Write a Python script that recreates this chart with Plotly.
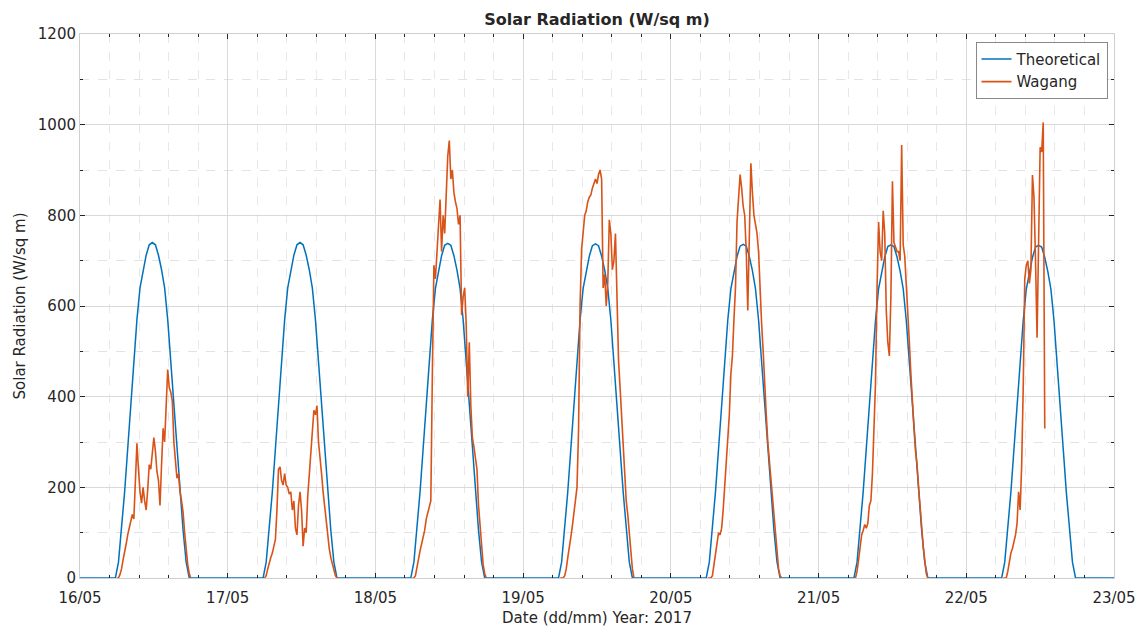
import pandas as pd
import plotly.graph_objects as go

# ---------------- data ----------------
DAYS = ["2017-05-16", "2017-05-17", "2017-05-18", "2017-05-19",
        "2017-05-20", "2017-05-21", "2017-05-22"]

# hours of day for the theoretical curve
THEO_HOURS = [0, 5.75, 6.25, 6.75, 7.25, 7.75, 8.25, 8.75, 9.25, 9.75, 10.25, 10.75, 11.25,
              11.75, 12.25, 12.75, 13.25, 13.75, 14.25, 14.75, 15.25, 15.75, 16.25, 16.75,
              17.25, 17.75, 24]

THEO_D1 = [0, 0, 35, 105, 190, 285, 385, 480, 570, 640, 680, 712, 735, 740, 735, 712, 680, 640, 570, 480, 385, 285, 190, 105, 35, 0, 0]
THEO_D2 = [0, 0, 35, 105, 190, 285, 385, 480, 570, 640, 680, 712, 735, 740, 735, 712, 680, 640, 570, 480, 385, 285, 190, 105, 35, 0, 0]
THEO_D3 = [0, 0, 35, 105, 190, 285, 385, 480, 570, 639, 679, 711, 734, 738, 734, 711, 679, 639, 570, 480, 385, 285, 190, 105, 35, 0, 0]
THEO_D4 = [0, 0, 35, 105, 190, 285, 385, 480, 569, 639, 679, 710, 733, 737, 733, 710, 679, 639, 569, 480, 385, 285, 190, 105, 35, 0, 0]
THEO_D5 = [0, 0, 35, 105, 190, 285, 384, 479, 569, 638, 678, 709, 732, 736, 732, 709, 678, 638, 569, 479, 384, 285, 190, 105, 35, 0, 0]
THEO_D6 = [0, 0, 35, 105, 190, 285, 384, 479, 568, 638, 677, 708, 731, 735, 731, 708, 677, 638, 568, 479, 384, 285, 190, 105, 35, 0, 0]
THEO_D7 = [0, 0, 35, 105, 190, 285, 384, 479, 568, 637, 676, 707, 730, 734, 730, 707, 676, 637, 568, 479, 384, 285, 190, 105, 35, 0, 0]

# hours of day for the measured (Wagang) curve, 15-minute steps
WAG_HOURS = [6.00, 6.25, 6.50, 6.75, 7.00, 7.25, 7.50, 7.75, 8.00, 8.25, 8.50, 8.75,
             9.00, 9.25, 9.50, 9.75, 10.00, 10.25, 10.50, 10.75, 11.00, 11.25, 11.50, 11.75,
             12.00, 12.25, 12.50, 12.75, 13.00, 13.25, 13.50, 13.75, 14.00, 14.25, 14.50, 14.75,
             15.00, 15.25, 15.50, 15.75, 16.00, 16.25, 16.50, 16.75, 17.00, 17.25, 17.50, 17.75,
             18.00]

WAG_D1 = [0, 0, 8, 20, 40, 55, 75, 95, 110, 125, 140, 130,
          210, 297, 240, 190, 165, 200, 170, 150, 195, 250, 240, 285,
          310, 280, 235, 215, 160, 250, 330, 300, 395, 460, 420, 410,
          390, 300, 260, 220, 230, 190, 170, 145, 100, 55, 30, 10, 0]
WAG_D2 = [0, 5, 20, 35, 45, 55, 70, 85, 150, 240, 245, 215,
          205, 230, 205, 200, 185, 190, 150, 170, 110, 95, 160, 190,
          150, 70, 110, 100, 180, 230, 280, 320, 370, 360, 380, 300,
          270, 230, 190, 160, 120, 90, 65, 45, 30, 15, 5, 0, 0]
WAG_D3 = [0, 0, 5, 25, 45, 60, 75, 90, 105, 130, 145, 160,
          170, 450, 690, 660, 725, 790, 835, 720, 800, 760, 850, 930,
          965, 880, 900, 850, 830, 815, 780, 800, 580, 620, 640, 560,
          400, 520, 380, 310, 290, 260, 240, 160, 120, 70, 30, 10, 0]
WAG_D4 = [0, 0, 0, 5, 20, 45, 65, 90, 115, 140, 170, 200,
          325, 600, 725, 760, 800, 810, 830, 840, 845, 860, 870, 880,
          870, 890, 900, 880, 640, 670, 600, 650, 790, 760, 680, 700,
          760, 600, 480, 420, 350, 300, 220, 170, 140, 100, 50, 20, 0]
WAG_D5 = [0, 0, 0, 5, 30, 60, 85, 100, 95, 110, 150, 200,
          260, 320, 360, 450, 490, 570, 640, 785, 850, 890, 860, 820,
          800, 720, 590, 780, 915, 850, 800, 780, 760, 720, 620, 560,
          500, 420, 360, 300, 260, 220, 170, 130, 90, 50, 20, 5, 0]
WAG_D6 = [0, 15, 40, 70, 95, 105, 118, 110, 120, 160, 170, 230,
          330, 430, 640, 785, 720, 700, 810, 760, 590, 520, 490, 620,
          875, 740, 730, 720, 720, 700, 955, 735, 710, 650, 600, 520,
          450, 380, 330, 280, 250, 200, 150, 110, 70, 40, 10, 0, 0]
WAG_D7 = [0, 0, 0, 15, 40, 55, 65, 80, 95, 120, 190, 150,
          250, 420, 660, 690, 700, 650, 680, 889, 840, 700, 530, 740,
          950, 940, 1005, 330]

THEO = [THEO_D1, THEO_D2, THEO_D3, THEO_D4, THEO_D5, THEO_D6, THEO_D7]
WAG = [WAG_D1, WAG_D2, WAG_D3, WAG_D4, WAG_D5, WAG_D6, WAG_D7]

Y_TICKS = [0, 200, 400, 600, 800, 1000, 1200]

# ---------------- build series ----------------
tx, ty = [], []
for day, vals in zip(DAYS, THEO):
    base = pd.Timestamp(day)
    for h, v in zip(THEO_HOURS, vals):
        tx.append(base + pd.Timedelta(hours=h))
        ty.append(v)

wx, wy = [], []
for day, vals in zip(DAYS, WAG):
    base = pd.Timestamp(day)
    for h, v in zip(WAG_HOURS, vals):
        wx.append(base + pd.Timedelta(hours=h))
        wy.append(v)
    wx.append(None)
    wy.append(None)

BLUE = "#0072BD"
ORANGE = "#D95319"
TXT = "#262626"
FONT = "DejaVu Sans"

fig = go.Figure()
fig.add_trace(go.Scatter(x=tx, y=ty, mode="lines", name="Theoretical",
                         line=dict(color=BLUE, width=1.5)))
fig.add_trace(go.Scatter(x=wx, y=wy, mode="lines", name="Wagang",
                         line=dict(color=ORANGE, width=1.6), connectgaps=False))

fig.update_layout(
    width=1148, height=636,
    margin=dict(l=80, r=29, t=34, b=52),
    paper_bgcolor="white", plot_bgcolor="white",
    font=dict(family=FONT, size=15, color=TXT),
    title=dict(text="<b>Solar Radiation (W/sq m)</b>", x=0.5, xref="paper", xanchor="center",
               y=1 - 19 / 636, yref="container", yanchor="middle",
               font=dict(family=FONT, size=16, color=TXT)),
    legend=dict(x=0.994, y=0.985, xanchor="right", yanchor="top",
                bgcolor="white", bordercolor="#555555", borderwidth=0.7,
                font=dict(family=FONT, size=15, color=TXT), itemwidth=30,
                tracegroupgap=0),
    showlegend=True,
)

fig.update_xaxes(
    type="date", range=[DAYS[0], "2017-05-23"],
    tick0=DAYS[0], dtick=86400000, tickformat="%d/%m",
    ticks="inside", ticklen=5, tickcolor=TXT, tickfont=dict(size=15, color=TXT),
    ticklabelstandoff=6,
    showline=True, linecolor="#cfcfcf", mirror="ticks",
    showgrid=True, gridcolor="#d9d9d9", gridwidth=1, zeroline=False,
    minor=dict(tick0=DAYS[0], dtick=17280000, ticks="inside", ticklen=3, tickcolor=TXT,
               showgrid=True, gridcolor="#e8e8e8", griddash="dash"),
    title=dict(text="Date (dd/mm) Year: 2017", standoff=6, font=dict(size=15, color=TXT)),
)
fig.update_yaxes(
    range=[0, 1200], tickvals=Y_TICKS,
    ticks="inside", ticklen=5, tickcolor=TXT, tickfont=dict(size=15, color=TXT),
    showline=True, linecolor="#cfcfcf", mirror="ticks",
    showgrid=True, gridcolor="#d9d9d9", gridwidth=1, zeroline=False,
    minor=dict(dtick=100, tick0=0, ticks="inside", ticklen=3, tickcolor=TXT,
               showgrid=True, gridcolor="#e3e3e3", griddash="dash"),
    title=dict(text="Solar Radiation (W/sq m)", standoff=8, font=dict(size=15, color=TXT)),
)

fig.write_html("out.html")
